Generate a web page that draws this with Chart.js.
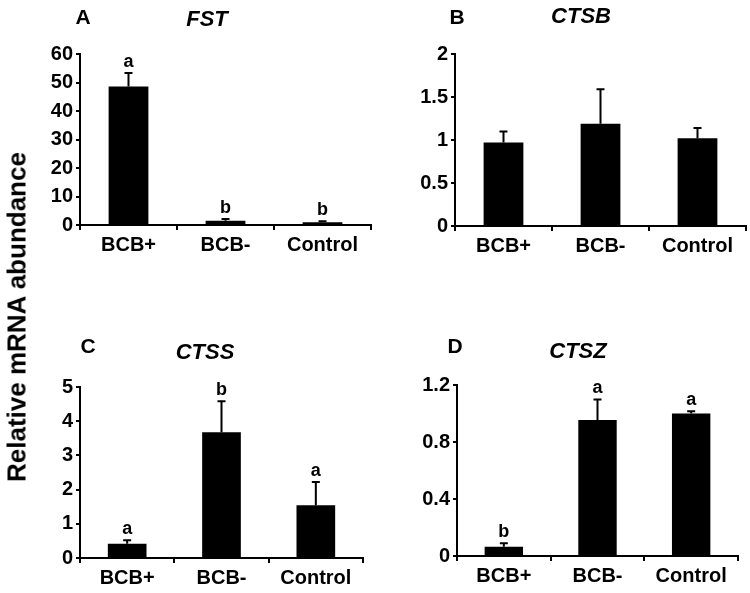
<!DOCTYPE html>
<html>
<head>
<meta charset="utf-8">
<script src="https://cdn.jsdelivr.net/npm/chart.js@4.4.0/dist/chart.umd.min.js"></script>
<style>
  body { margin: 0; background: #fff; }
  #wrap { position: relative; width: 750px; height: 593px; overflow: hidden; background: #fff; }
  #wrap canvas { position: absolute; }
  #ytitle {
    position: absolute; left: 17px; top: 317px;
    transform: translate(-50%, -50%) rotate(-90deg);
    font: bold 26px "Liberation Sans", Arial, sans-serif;
    white-space: nowrap; color: #000;
  }
</style>
</head>
<body>
<div id="wrap">
  <canvas id="cA" width="375" height="270" style="left:0;top:0"></canvas>
  <canvas id="cB" width="375" height="270" style="left:375px;top:0"></canvas>
  <canvas id="cC" width="375" height="303" style="left:0;top:290px"></canvas>
  <canvas id="cD" width="375" height="303" style="left:375px;top:290px"></canvas>
  <div id="ytitle">Relative mRNA abundance</div>
</div>
<script>
// groups shared by all four panels
const groups = ["BCB+", "BCB-", "Control"];

// A: FST
const fstMean = [48.6, 1.5, 1.0];
const fstErr = [4.7, 0.6, 0.3];
const fstLetters = ["a", "b", "b"];

// B: CTSB (no letters)
const ctsbMean = [0.97, 1.19, 1.02];
const ctsbErr = [0.13, 0.40, 0.12];

// C: CTSS
const ctssMean = [0.42, 3.68, 1.54];
const ctssErr = [0.10, 0.90, 0.68];
const ctssLetters = ["a", "b", "a"];

// D: CTSZ
const ctszMean = [0.065, 0.954, 1.0];
const ctszErr = [0.025, 0.145, 0.015];
const ctszLetters = ["b", "a", "a"];

const FONT = '"Liberation Sans", Arial, sans-serif';

// error bars (upward only), significance letters, panel tag + gene title
const decor = {
  id: "decor",
  afterDatasetsDraw(chart, args, opts) {
    const ctx = chart.ctx;
    const y = chart.scales.y;
    const bars = chart.getDatasetMeta(0).data;
    ctx.save();
    ctx.strokeStyle = "#000";
    ctx.fillStyle = "#000";
    ctx.lineWidth = 2;
    ctx.font = "bold 18px " + FONT;
    ctx.textAlign = "center";
    ctx.textBaseline = "bottom";
    bars.forEach((bar, i) => {
      const top = y.getPixelForValue(opts.means[i] + opts.errs[i]);
      ctx.beginPath();
      ctx.moveTo(bar.x, bar.y);
      ctx.lineTo(bar.x, top);
      ctx.moveTo(bar.x - 4, top);
      ctx.lineTo(bar.x + 4, top);
      ctx.stroke();
      if (opts.letters) ctx.fillText(opts.letters[i], bar.x, top - 2);
    });
    ctx.textBaseline = "middle";
    ctx.font = "bold 21px " + FONT;
    ctx.fillText(opts.tag, opts.tagPos[0], opts.tagPos[1]);
    ctx.font = "italic bold 22px " + FONT;
    ctx.fillText(opts.title, opts.titlePos[0], opts.titlePos[1]);
    ctx.restore();
  },
};

function makePanel(id, means, errs, letters, p) {
  const axisFont = { family: FONT, size: 20, weight: "bold" };
  return new Chart(document.getElementById(id), {
    type: "bar",
    data: {
      labels: groups,
      datasets: [
        {
          data: means,
          backgroundColor: "#000",
          borderWidth: 0,
          barPercentage: 0.41,
          categoryPercentage: 1,
        },
      ],
    },
    options: {
      responsive: false,
      animation: false,
      layout: { padding: { top: p.top, right: p.right, left: 0, bottom: 0 } },
      scales: {
        x: {
          afterFit: (s) => { s.height = p.xH; },
          grid: { drawOnChartArea: false, drawTicks: true, tickLength: 5, color: "#000", lineWidth: 2, offset: true },
          border: { display: true, color: "#000", width: 2 },
          ticks: { color: "#000", font: axisFont, padding: 3 },
        },
        y: {
          min: 0,
          max: p.max,
          afterFit: (s) => { s.width = p.yW; },
          grid: { drawOnChartArea: false, drawTicks: true, tickLength: 4, color: "#000", lineWidth: 2 },
          border: { display: true, color: "#000", width: 2 },
          ticks: {
            color: "#000",
            font: axisFont,
            padding: 3,
            stepSize: p.step,
            callback: (v) => String(Math.round(v * 10) / 10),
          },
        },
      },
      plugins: {
        legend: { display: false },
        tooltip: { enabled: false },
        decor: {
          means: means,
          errs: errs,
          letters: letters,
          tag: p.tag,
          title: p.title,
          tagPos: p.tagPos,
          titlePos: p.titlePos,
        },
      },
    },
    plugins: [decor],
  });
}

makePanel("cA", fstMean, fstErr, fstLetters, {
  top: 54, right: 4, yW: 80, xH: 45, max: 60, step: 10,
  tag: "A", title: "FST", tagPos: [83, 18], titlePos: [207, 20],
});
makePanel("cB", ctsbMean, ctsbErr, null, {
  top: 54, right: 4, yW: 80, xH: 44, max: 2, step: 0.5,
  tag: "B", title: "CTSB", tagPos: [82, 18], titlePos: [206, 17],
});
makePanel("cC", ctssMean, ctssErr, ctssLetters, {
  top: 97, right: 12, yW: 80, xH: 35, max: 5, step: 1,
  tag: "C", title: "CTSS", tagPos: [88, 57], titlePos: [205, 63],
});
makePanel("cD", ctszMean, ctszErr, ctszLetters, {
  top: 95, right: 12, yW: 82, xH: 37, max: 1.2, step: 0.4,
  tag: "D", title: "CTSZ", tagPos: [80, 57], titlePos: [203, 62],
});
</script>
</body>
</html>
